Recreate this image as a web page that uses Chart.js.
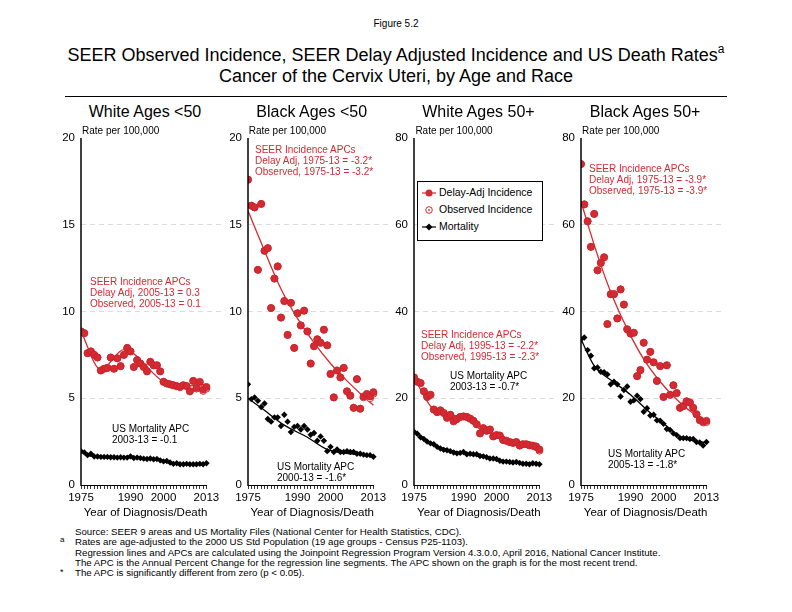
<!DOCTYPE html>
<html lang="en">
<head>
<meta charset="UTF-8">
<title>Figure 5.2 - Cervix Uteri</title>
<script src="https://cdn.jsdelivr.net/npm/chart.js"></script>
<style>
    body {
        margin: 0;
        width: 792px;
        height: 612px;
        position: relative;
        background: #fff;
        font-family: "Liberation Sans", Arial, sans-serif;
        color: #000;
        overflow: hidden;
    }
    .txt { position: absolute; white-space: nowrap; }
    .center { transform: translateX(-50%); }
    .red { color: #d42a32; }
    .note { font-size: 10px; line-height: 11px; }
    canvas { position: absolute; }
    #legend {
        position: absolute;
        left: 417px; top: 181px;
        width: 124px; height: 58px;
        border: 1px solid #000;
        background: #fff;
        font-size: 10.5px;
    }
    #legend .row { position: absolute; left: 4px; height: 14px; line-height: 14px; }
    #legend svg { vertical-align: middle; margin-right: 3px; }
    .foot { font-size: 9.7px; line-height: 10.3px; }
</style>
</head>
<body>

<div class="txt center" style="left:396px; top:18px; font-size:10px;">Figure 5.2</div>
<div class="txt center" style="left:396px; top:44px; font-size:18px; line-height:22px;">SEER Observed Incidence, SEER Delay Adjusted Incidence and US Death Rates<span style="font-size:12px; line-height:0; position:relative; top:-8px;">a</span></div>
<div class="txt center" style="left:396px; top:65px; font-size:18px; line-height:22px;">Cancer of the Cervix Uteri, by Age and Race</div>
<div style="position:absolute; left:65px; top:96px; width:662px; height:1px; background:#000;"></div>

<div id="panels"></div>

<div id="legend">
    <div class="row" style="top:3px;">
        <svg width="14" height="10"><line x1="0" y1="5" x2="14" y2="5" stroke="#d42a32" stroke-width="1.2"/><circle cx="7" cy="5" r="3.5" fill="#d42a32"/></svg>Delay-Adj Incidence
    </div>
    <div class="row" style="top:20px;">
        <svg width="14" height="10"><circle cx="7" cy="5" r="3.3" fill="#fff" stroke="#d42a32" stroke-width="1"/><circle cx="7" cy="5" r="0.9" fill="#d42a32"/></svg>Observed Incidence
    </div>
    <div class="row" style="top:37px;">
        <svg width="14" height="10"><line x1="0" y1="5" x2="14" y2="5" stroke="#000" stroke-width="1.2"/><polygon points="7,1.5 10.5,5 7,8.5 3.5,5" fill="#000"/></svg>Mortality
    </div>
</div>

<div class="txt foot" style="left:75px; top:526.8px;">Source: SEER 9 areas and US Mortality Files (National Center for Health Statistics, CDC).</div>
<div class="txt" style="left:60px; top:535px; font-size:8px; line-height:9px;">a</div>
<div class="txt foot" style="left:75px; top:537.3px;">Rates are age-adjusted to the 2000 US Std Population (19 age groups - Census P25-1103).</div>
<div class="txt foot" style="left:75px; top:547.5px;">Regression lines and APCs are calculated using the Joinpoint Regression Program Version 4.3.0.0, April 2016, National Cancer Institute.</div>
<div class="txt foot" style="left:75px; top:557.6px;">The APC is the Annual Percent Change for the regression line segments. The APC shown on the graph is for the most recent trend.</div>
<div class="txt" style="left:60px; top:568px; font-size:9px; line-height:9px;">*</div>
<div class="txt foot" style="left:75px; top:567.8px;">The APC is significantly different from zero (p &lt; 0.05).</div>

<script>
// ---- data (rates per 100,000) ----
const years = [1975, 1976, 1977, 1978, 1979, 1980, 1981, 1982, 1983, 1984,
               1985, 1986, 1987, 1988, 1989, 1990, 1991, 1992, 1993, 1994,
               1995, 1996, 1997, 1998, 1999, 2000, 2001, 2002, 2003, 2004,
               2005, 2006, 2007, 2008, 2009, 2010, 2011, 2012, 2013];
const xLabelYears = [1975, 1990, 2000, 2013];

// White Ages <50
const whiteYoungDelay = [8.85, 8.75, 7.6, 7.7, 7.5, 7.35, 6.6, 6.7, 6.75, 7.35,
                         6.7, 7.3, 6.85, 7.5, 7.9, 7.7, 6.8, 7.2, 7.0, 6.8,
                         6.55, 7.1, 6.9, 6.9, 6.55, 5.95, 5.85, 5.8, 5.75, 5.7,
                         5.65, 5.75, 5.7, 5.4, 6.0, 5.6, 5.95, 5.5, 5.65];
const whiteYoungObs   = [8.85, 8.75, 7.6, 7.7, 7.5, 7.35, 6.6, 6.7, 6.75, 7.35,
                         6.7, 7.3, 6.85, 7.5, 7.9, 7.7, 6.8, 7.2, 7.0, 6.8,
                         6.55, 7.1, 6.9, 6.9, 6.55, 5.95, 5.85, 5.8, 5.75, 5.7,
                         5.65, 5.75, 5.7, 5.4, 6.0, 5.55, 5.9, 5.42, 5.55];
const whiteYoungMort  = [1.95, 1.88, 1.72, 1.8, 1.64, 1.64, 1.62, 1.62, 1.62, 1.6,
                         1.6, 1.58, 1.6, 1.58, 1.58, 1.65, 1.56, 1.58, 1.55, 1.52,
                         1.5, 1.53, 1.48, 1.5, 1.42, 1.36, 1.38, 1.3, 1.22, 1.25,
                         1.2, 1.2, 1.22, 1.2, 1.2, 1.2, 1.22, 1.2, 1.25];
const whiteYoungFitX     = [1975, 1981, 1988, 2000, 2005, 2013];
const whiteYoungFitY     = [8.85, 6.65, 7.8, 5.95, 5.7, 5.8];
const whiteYoungMortFitX = [1975, 1978, 1990, 2000, 2003, 2013];
const whiteYoungMortFitY = [1.95, 1.66, 1.56, 1.38, 1.21, 1.19];

// Black Ages <50
const blackYoungDelay = [17.6, 16.1, 16.0, 12.4, 16.2, 13.5, 13.65, 10.2, 11.9, 12.6,
                         9.65, 10.6, 8.65, 10.5, 7.9, 9.9, 9.2, 10.05, 8.85, 7.0,
                         8.0, 8.4, 8.2, 8.95, 8.05, 6.4, 5.05, 6.6, 6.2, 6.75,
                         5.4, 5.15, 4.45, 6.1, 4.4, 5.1, 5.25, 5.1, 5.35];
const blackYoungObs   = [17.6, 16.1, 16.0, 12.4, 16.2, 13.5, 13.65, 10.2, 11.9, 12.6,
                         9.65, 10.6, 8.65, 10.5, 7.9, 9.9, 9.2, 10.05, 8.85, 7.0,
                         8.0, 8.4, 8.2, 8.95, 8.05, 6.4, 5.05, 6.6, 6.2, 6.75,
                         5.4, 5.15, 4.45, 6.1, 4.4, 5.05, 5.15, 5.0, 5.25];
const blackYoungMort  = [5.8, 4.95, 5.05, 4.85, 4.5, 4.7, 3.8, 3.65, 3.9, 3.9,
                         3.4, 4.05, 3.65, 3.05, 3.35, 3.4, 3.2, 3.4, 3.2, 2.9,
                         3.0, 2.55, 2.8, 2.55, 1.95, 2.2, 1.9, 2.05, 1.9, 1.9,
                         1.95, 1.9, 1.9, 1.8, 1.8, 1.75, 1.72, 1.72, 1.63];
const blackYoungFitX     = [1975, 1980, 1985, 1990, 1995, 2000, 2005, 2010, 2013];
const blackYoungFitY     = [15.8, 13.5, 11.3, 9.6, 8.2, 7.0, 6.0, 5.1, 4.6];
const blackYoungMortFitX = [1975, 1979, 1986, 1993, 1999, 2013];
const blackYoungMortFitY = [5.0, 4.45, 3.45, 2.75, 2.05, 1.7];

// White Ages 50+
const whiteOldDelay = [24.8, 23.8, 23.5, 21.6, 20.3, 20.8, 17.4, 16.8, 17.2, 16.6,
                       15.5, 16.2, 14.7, 15.2, 15.7, 15.8, 15.7, 15.3, 14.8, 14.0,
                       11.9, 13.1, 12.5, 12.8, 11.2, 11.5, 11.4, 10.4, 10.2, 9.9,
                       9.7, 9.9, 9.1, 9.4, 9.4, 9.2, 9.1, 8.9, 8.2];
const whiteOldObs   = [24.8, 23.8, 23.5, 21.6, 20.3, 20.8, 17.4, 16.8, 17.2, 16.6,
                       15.5, 16.2, 14.7, 15.2, 15.7, 15.8, 15.7, 15.3, 14.8, 14.0,
                       11.9, 13.1, 12.5, 12.8, 11.2, 11.5, 11.4, 10.4, 10.2, 9.9,
                       9.7, 9.9, 9.1, 9.4, 9.4, 9.1, 9.0, 8.7, 7.9];
const whiteOldMort  = [12.3, 11.8, 11.0, 10.6, 10.0, 9.6, 9.4, 8.8, 8.4, 8.1,
                       8.0, 7.8, 7.5, 7.3, 7.4, 7.6, 7.1, 7.2, 7.1, 7.1,
                       6.7, 6.6, 6.4, 6.1, 6.1, 6.0, 5.6, 5.4, 5.4, 5.3,
                       5.2, 5.3, 5.1, 4.9, 4.9, 4.8, 5.0, 4.9, 4.8];
const whiteOldFitX     = [1975, 1981, 1990, 1995, 2013];
const whiteOldFitY     = [24.7, 17.4, 15.6, 12.9, 8.5];
const whiteOldMortFitX = [1975, 1980, 1985, 1990, 1995, 2000, 2003, 2013];
const whiteOldMortFitY = [12.4, 9.8, 8.2, 7.3, 6.6, 5.8, 5.3, 4.95];

// Black Ages 50+
const blackOldDelay = [74.0, 64.7, 60.8, 54.9, 62.5, 49.5, 51.2, 52.5, 37.1, 44.0,
                       44.0, 38.4, 45.1, 41.6, 35.9, 34.9, 35.1, 25.1, 26.5, 32.8,
                       28.9, 30.7, 28.3, 24.0, 27.4, 20.3, 27.6, 20.8, 23.0, 21.2,
                       17.8, 18.2, 19.3, 19.0, 17.8, 16.3, 15.0, 14.6, 14.8];
const blackOldObs   = [74.0, 64.7, 60.8, 54.9, 62.5, 49.5, 51.2, 52.5, 37.1, 44.0,
                       44.0, 38.4, 45.1, 41.6, 35.9, 34.9, 35.1, 25.1, 26.5, 32.8,
                       28.9, 30.7, 28.3, 24.0, 27.4, 20.3, 27.6, 20.8, 23.0, 21.2,
                       17.8, 18.2, 19.3, 19.0, 17.8, 16.3, 14.9, 14.4, 14.5];
const blackOldMort  = [33.6, 34.0, 31.1, 29.8, 26.9, 27.1, 26.1, 26.0, 25.5, 23.2,
                       23.8, 23.2, 20.4, 21.9, 22.7, 19.2, 19.5, 20.6, 19.8, 16.9,
                       17.7, 16.0, 16.2, 14.9, 14.8, 14.1, 12.9, 12.7, 11.9, 11.5,
                       10.8, 10.8, 10.8, 10.6, 10.6, 9.9, 9.8, 9.1, 9.9];
const blackOldFitX     = [1975, 1980, 1984, 1989, 1994, 1999, 2004, 2009, 2013];
const blackOldFitY     = [65.3, 53.0, 44.5, 36.0, 29.0, 23.8, 19.7, 16.5, 14.8];
const blackOldMortFitX = [1975, 1979, 1985, 1990, 1995, 2000, 2005, 2013];
const blackOldMortFitY = [33.6, 27.5, 23.7, 20.8, 17.3, 14.2, 11.2, 9.7];

const RED = '#d42a32';
Chart.defaults.font.family = '"Liberation Sans", Arial, sans-serif';
Chart.defaults.color = '#000';

const panels = [
    { title: 'White Ages <50', max: 20, step: 5,
      delay: whiteYoungDelay, obs: whiteYoungObs, mort: whiteYoungMort,
      fitX: whiteYoungFitX, fitY: whiteYoungFitY, mFitX: whiteYoungMortFitX, mFitY: whiteYoungMortFitY,
      red: ['SEER Incidence APCs', 'Delay Adj, 2005-13 = 0.3', 'Observed, 2005-13 = 0.1'], redPos: [90, 276],
      black: ['US Mortality APC', '2003-13 = -0.1'], blackPos: [112, 423] },
    { title: 'Black Ages <50', max: 20, step: 5,
      delay: blackYoungDelay, obs: blackYoungObs, mort: blackYoungMort,
      fitX: blackYoungFitX, fitY: blackYoungFitY, mFitX: blackYoungMortFitX, mFitY: blackYoungMortFitY,
      red: ['SEER Incidence APCs', 'Delay Adj, 1975-13 = -3.2*', 'Observed, 1975-13 = -3.2*'], redPos: [255, 144],
      black: ['US Mortality APC', '2000-13 = -1.6*'], blackPos: [277, 461] },
    { title: 'White Ages 50+', max: 80, step: 20,
      delay: whiteOldDelay, obs: whiteOldObs, mort: whiteOldMort,
      fitX: whiteOldFitX, fitY: whiteOldFitY, mFitX: whiteOldMortFitX, mFitY: whiteOldMortFitY,
      red: ['SEER Incidence APCs', 'Delay Adj, 1995-13 = -2.2*', 'Observed, 1995-13 = -2.3*'], redPos: [421, 329],
      black: ['US Mortality APC', '2003-13 = -0.7*'], blackPos: [450, 370] },
    { title: 'Black Ages 50+', max: 80, step: 20,
      delay: blackOldDelay, obs: blackOldObs, mort: blackOldMort,
      fitX: blackOldFitX, fitY: blackOldFitY, mFitX: blackOldMortFitX, mFitY: blackOldMortFitY,
      red: ['SEER Incidence APCs', 'Delay Adj, 1975-13 = -3.9*', 'Observed, 1975-13 = -3.9*'], redPos: [589, 163],
      black: ['US Mortality APC', '2005-13 = -1.8*'], blackPos: [608, 448] }
];

// solid axis lines: y full height, x only across the data years
const axisLines = {
    id: 'axisLines',
    afterDraw(chart) {
        const x = chart.scales.x, ctx = chart.ctx, a = chart.chartArea;
        ctx.save();
        ctx.strokeStyle = '#000';
        ctx.lineWidth = 1;
        ctx.beginPath();
        ctx.moveTo(x.getPixelForValue(years[0]), a.bottom + 0.5);
        ctx.lineTo(x.getPixelForValue(years[years.length - 1]) + 0.5, a.bottom + 0.5);
        ctx.stroke();
        ctx.lineWidth = 1.5;
        ctx.beginPath();
        ctx.moveTo(a.left, a.top);
        ctx.lineTo(a.left, a.bottom + 1);
        ctx.stroke();
        ctx.restore();
    }
};

function pts(xs, ys) {
    return xs.map((x, i) => ({ x: x, y: ys[i] }));
}

function addText(lines, left, top, cls) {
    const d = document.createElement('div');
    d.className = 'txt note ' + cls;
    d.style.left = left + 'px';
    d.style.top = top + 'px';
    d.innerHTML = lines.join('<br>');
    document.body.appendChild(d);
}

panels.forEach((p, i) => {
    const axisX = 81 + 166.7 * i;

    const t = document.createElement('div');
    t.className = 'txt center';
    t.style.cssText = 'left:' + (axisX + 64) + 'px; top:102px; font-size:16px; line-height:20px;';
    t.textContent = p.title;
    document.body.appendChild(t);

    const r = document.createElement('div');
    r.className = 'txt';
    r.style.cssText = 'left:' + (axisX + 1) + 'px; top:125px; font-size:10px; line-height:12px;';
    r.textContent = 'Rate per 100,000';
    document.body.appendChild(r);

    const xt = document.createElement('div');
    xt.className = 'txt center';
    xt.style.cssText = 'left:' + (axisX + 64.5) + 'px; top:505px; font-size:11.5px; line-height:14px;';
    xt.textContent = 'Year of Diagnosis/Death';
    document.body.appendChild(xt);

    const c = document.createElement('canvas');
    c.width = 170;
    c.height = 390;
    c.style.left = (axisX - 25) + 'px';
    c.style.top = '125px';
    document.getElementById('panels').appendChild(c);

    new Chart(c.getContext('2d'), {
        type: 'scatter',
        data: {
            datasets: [
                { label: 'Delay-Adj Incidence', data: pts(years, p.delay),
                  pointStyle: 'circle', pointRadius: 3.6, backgroundColor: RED, borderColor: '#c22028', borderWidth: 0.6 },
                { label: 'Observed Incidence', data: pts(years, p.obs),
                  pointStyle: 'circle', pointRadius: 3.4, backgroundColor: '#fff', borderColor: RED, borderWidth: 1 },
                { label: 'Delay-Adj fit', data: pts(p.fitX, p.fitY), showLine: true,
                  borderColor: RED, borderWidth: 1.3, pointRadius: 0, cubicInterpolationMode: 'monotone' },
                { label: 'Mortality', data: pts(years, p.mort),
                  pointStyle: 'rectRot', pointRadius: 3.2, backgroundColor: '#000', borderColor: '#000', borderWidth: 0 },
                { label: 'Mortality fit', data: pts(p.mFitX, p.mFitY), showLine: true,
                  borderColor: '#000', borderWidth: 1.3, pointRadius: 0, cubicInterpolationMode: 'monotone' }
            ]
        },
        options: {
            responsive: false,
            animation: false,
            layout: { padding: { top: 13, right: 1, left: 0, bottom: 0 } },
            plugins: { legend: { display: false }, tooltip: { enabled: false } },
            scales: {
                x: {
                    type: 'linear',
                    min: 1975,
                    max: 2017.42,
                    afterBuildTicks: axis => { axis.ticks = years.map(v => ({ value: v })); },
                    afterFit: axis => { axis.height = 30; },
                    ticks: {
                        autoSkip: false, maxRotation: 0, padding: 2,
                        font: { size: 11.5 },
                        callback: v => xLabelYears.includes(v) ? String(v) : ''
                    },
                    grid: { drawOnChartArea: false, drawTicks: true, tickLength: 4, color: '#000', lineWidth: 0.8 },
                    border: { display: false }
                },
                y: {
                    min: 0,
                    max: p.max,
                    afterFit: axis => { axis.width = 25; },
                    ticks: { stepSize: p.step, padding: 6, font: { size: 11.5 } },
                    grid: {
                        drawTicks: false,
                        color: ctx => (ctx.tick.value === 0 || ctx.tick.value === p.max) ? 'rgba(0,0,0,0)' : '#dcdcdc',
                        lineWidth: 1
                    },
                    border: { display: false, dash: [5, 4] }
                }
            }
        },
        plugins: [axisLines]
    });

    addText(p.red, p.redPos[0], p.redPos[1], 'red');
    addText(p.black, p.blackPos[0], p.blackPos[1], '');
});

// keep legend above the panel canvas
document.body.appendChild(document.getElementById('legend'));
</script>
</body>
</html>
